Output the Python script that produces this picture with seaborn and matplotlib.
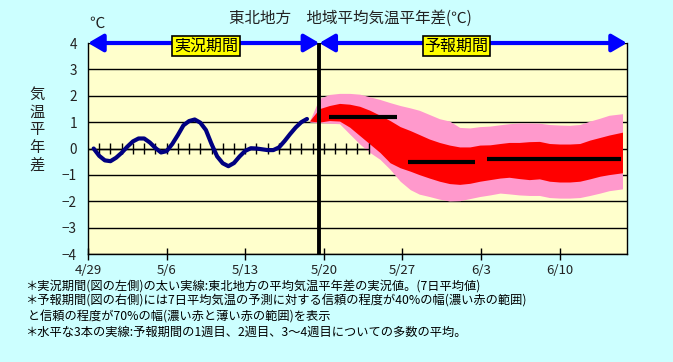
import matplotlib
matplotlib.use('Agg')
import matplotlib.pyplot as plt
import seaborn as sns

# observed anomaly (7-day mean), x = days since 4/29
obs_day = [0.5, 1.0, 1.5, 2.0, 2.5, 3.0, 3.5, 4.0, 4.5, 5.0,
           5.5, 6.0, 6.5, 7.0, 7.5, 8.0, 8.5, 9.0, 9.5, 10.0,
           10.5, 11.0, 11.5, 12.0, 12.5, 13.0, 13.5, 14.0, 14.5, 15.0,
           15.5, 16.0, 16.5, 17.0, 17.5, 18.0, 18.5, 19.0, 19.5]
obs_val = [0.0, -0.28, -0.45, -0.48, -0.35, -0.16, 0.07, 0.27, 0.38, 0.38,
           0.23, 0.02, -0.15, -0.10, 0.17, 0.51, 0.88, 1.04, 1.10, 0.98,
           0.70, 0.17, -0.30, -0.56, -0.67, -0.55, -0.30, -0.09, 0.01, 0.00,
           -0.03, -0.06, -0.06, 0.04, 0.28, 0.55, 0.80, 1.00, 1.12]

# forecast ranges (70% = pink, 40% = red)
fc_day = [19.75, 20.6, 21.5, 22.4, 23.3, 24.2, 25.1, 26.0, 26.9, 27.8,
          28.7, 29.5, 30.4, 31.3, 32.2, 33.1, 34.0, 34.9, 35.8, 36.7,
          37.5, 38.4, 39.3, 40.2, 41.1, 42.0, 42.9, 43.8, 44.7, 45.6,
          46.4, 47.6]
pink_top = [1.06, 1.9, 2.05, 2.09, 2.09, 2.06, 1.96, 1.86, 1.74, 1.63,
            1.54, 1.45, 1.29, 1.13, 1.04, 0.80, 0.78, 0.83, 0.85, 0.90,
            0.94, 0.97, 0.97, 0.96, 0.91, 0.89, 0.88, 0.91, 1.04, 1.15,
            1.26, 1.32]
red_top = [1.06, 1.51, 1.63, 1.71, 1.68, 1.60, 1.45, 1.26, 1.06, 0.83,
           0.68, 0.53, 0.36, 0.23, 0.13, 0.06, 0.06, 0.13, 0.14, 0.19,
           0.23, 0.23, 0.26, 0.27, 0.19, 0.17, 0.17, 0.19, 0.32, 0.42,
           0.51, 0.62]
red_bot = [1.04, 1.0, 1.06, 1.04, 0.81, 0.49, 0.17, -0.15, -0.54, -0.73,
           -0.86, -0.99, -1.12, -1.24, -1.33, -1.36, -1.32, -1.24, -1.18, -1.12,
           -1.09, -1.14, -1.18, -1.15, -1.24, -1.27, -1.27, -1.24, -1.15, -1.05,
           -0.99, -0.92]
pink_bot = [1.0, 0.98, 0.96, 0.94, 0.55, 0.17, -0.15, -0.41, -0.79, -1.24,
            -1.56, -1.73, -1.82, -1.92, -1.99, -1.98, -1.90, -1.82, -1.76, -1.69,
            -1.72, -1.76, -1.78, -1.78, -1.86, -1.88, -1.88, -1.86, -1.78, -1.69,
            -1.60, -1.53]

# weekly means (week 1, week 2, weeks 3-4)
week_start = [21.5, 28.5, 35.5]
week_end = [27.5, 34.5, 47.5]
week_mean = [1.2, -0.5, -0.4]

tick_days = [0, 7, 14, 21, 28, 35, 42]
tick_labels = ['4/29', '5/6', '5/13', '5/20', '5/27', '6/3', '6/10']
zero_tick_days = list(range(1, 26))
split_day = 20.6
end_day = 48
period_labels = ['実況期間', '予報期間']
period_label_x = [10.5, 32.8]

notes = [
    '＊実況期間(図の左側)の太い実線:東北地方の平均気温平年差の実況値。(7日平均値)',
    '＊予報期間(図の右側)には7日平均気温の予測に対する信頼の程度が40%の幅(濃い赤の範囲)',
    ' と信頼の程度が70%の幅(濃い赤と薄い赤の範囲)を表示',
    '＊水平な3本の実線:予報期間の1週目、2週目、3～4週目についての多数の平均。',
]

sns.set_theme(style='white')
plt.rcParams['font.family'] = ['Noto Sans CJK JP', 'DejaVu Sans']
plt.rcParams['axes.unicode_minus'] = True

txt = '#222222'
fig = plt.figure(figsize=(6.73, 3.62), dpi=100, facecolor='#CCFFFF')
ax = fig.add_axes([0.1308, 0.2983, 0.8008, 0.5829])
ax.set_facecolor('#FFFFCC')

# ranges
ax.fill_between(fc_day, pink_bot, pink_top, color='#FF99CC', lw=0, zorder=1)
ax.fill_between(fc_day, red_bot, red_top, color='#FF0000', lw=0, zorder=2)

# weekly means
ax.hlines(week_mean, week_start, week_end, color='black', lw=3, zorder=4)

# zero axis with daily ticks in the observed part
ax.hlines(0, 0, zero_tick_days[-1], color='black', lw=1, zorder=3)
ax.vlines(zero_tick_days, -0.19, 0.19, color='black', lw=1, zorder=3)

# observed curve
sns.lineplot(x=obs_day, y=obs_val, ax=ax, color='#000080', lw=3, zorder=4)

ax.axvline(split_day, color='black', lw=2.8, zorder=5)

ax.set_xlim(0, end_day)
ax.set_ylim(-4, 4)
ax.set_yticks(range(-4, 5))
ax.set_xticks(tick_days)
ax.set_xticklabels(tick_labels)
ax.yaxis.grid(True, color='black', lw=1)
ax.set_axisbelow(True)
ax.tick_params(axis='x', direction='inout', length=8, width=1, color='black',
               pad=3, labelsize=9.5, labelcolor=txt, bottom=True)
ax.tick_params(axis='y', length=0, pad=8, labelsize=9.8, labelcolor=txt)
for s in ['left', 'right', 'bottom']:
    ax.spines[s].set_color('black')
    ax.spines[s].set_linewidth(1)
ax.spines['top'].set_visible(False)

# period arrows
arrow = dict(arrowstyle='<|-|>,head_length=0.6,head_width=0.35', color='#0000FF',
             lw=3, mutation_scale=15, shrinkA=0, shrinkB=0)
for (x0, x1), label, lx in zip([(0, split_day), (split_day, end_day)],
                               period_labels, period_label_x):
    ax.annotate('', xy=(x0, 4), xytext=(x1, 4), arrowprops=arrow,
                annotation_clip=False, zorder=6)
    ax.text(lx, 3.88, label, ha='center', va='center', fontsize=11.5, color='black',
            zorder=7, clip_on=False,
            bbox=dict(boxstyle='square,pad=0.1', fc='#FFFF00', ec='black', lw=1.2))

fig.text(0.52, 0.950, '東北地方　地域平均気温平年差(℃)', ha='center', va='center',
         fontsize=11.2, color=txt)
fig.text(0.144, 0.936, '℃', ha='center', va='center', fontsize=11, color=txt)
fig.text(0.0545, 0.642, '気\n温\n平\n年\n差', ha='center', va='center',
         fontsize=11, linespacing=1.05, color=txt)

note_y = [0.211, 0.168, 0.125, 0.082]
for line, y in zip(notes, note_y):
    fig.text(0.037, y, line, ha='left', va='center', fontsize=8.8, color='black')

fig.savefig('out.png', dpi=100, facecolor=fig.get_facecolor())
